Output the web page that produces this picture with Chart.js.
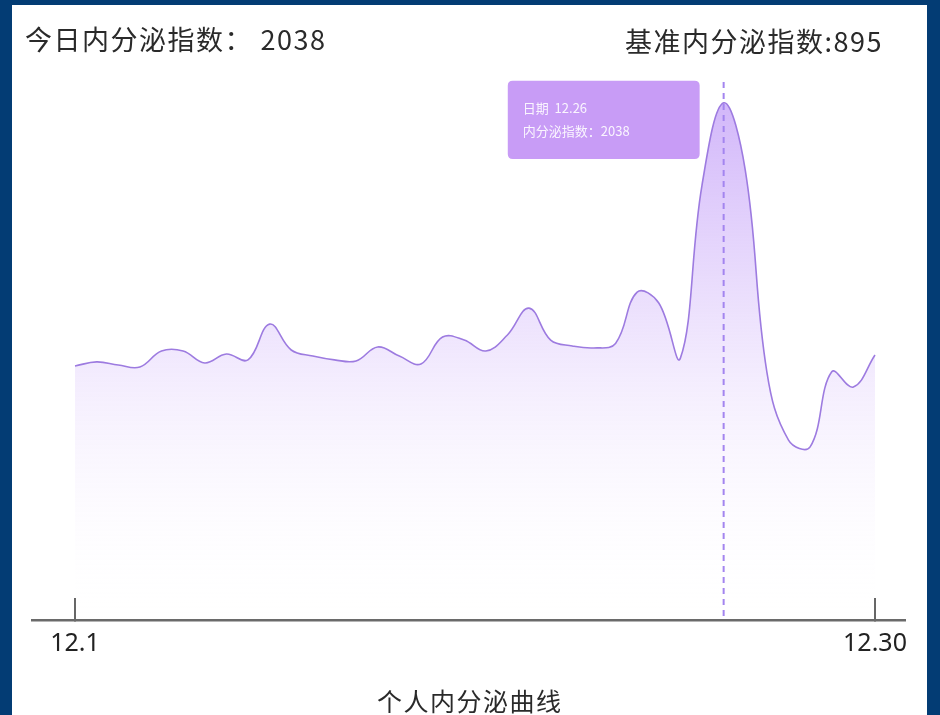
<!DOCTYPE html>
<html>
<head>
<meta charset="utf-8">
<script src="https://cdn.jsdelivr.net/npm/chart.js@4.4.1/dist/chart.umd.min.js"></script>
<style>
  html, body { margin: 0; padding: 0; width: 940px; height: 715px; overflow: hidden; background: #033c74; font-family: "Noto Sans CJK SC", "Noto Sans", sans-serif; }
  #panel { position: absolute; left: 12px; top: 5px; width: 915px; height: 710px; background: #fff; }
  #wrap { position: absolute; left: 0; top: 0; width: 940px; height: 715px; }
  .txt { position: absolute; color: #2a2a2a; white-space: nowrap; line-height: 1; font-size: 27px; letter-spacing: 1.5px; }
</style>
</head>
<body>
<div id="panel"></div>
<div id="wrap"><canvas id="c" width="940" height="715"></canvas></div>
<div class="txt" id="todayText" style="left:25px; top:25px;"></div>
<div class="txt" id="baseText" style="left:625px; top:27px;"></div>
<div class="txt" id="caption" style="left:377px; top:688px; font-size:25px;">个人内分泌曲线</div>
<script>
// Reading dates (some days have two readings)
const readingDates = [
  '12.1', '12.2', '12.3', '12.4', '12.4', '12.5', '12.6', '12.7', '12.8', '12.9',
  '12.9', '12.10', '12.11', '12.12', '12.13', '12.14', '12.14', '12.15', '12.16', '12.17',
  '12.18', '12.19', '12.19', '12.20', '12.21', '12.22', '12.23', '12.24', '12.24', '12.25',
  '12.26', '12.27', '12.27', '12.28', '12.28', '12.29', '12.29', '12.30'
];

// Endocrine index per reading
const endocrineIndex = [
  1001, 1017, 1005, 997, 1060, 1060, 1013, 1048, 1025, 1166,
  1064, 1040, 1025, 1021, 1076, 1040, 1009, 1115, 1103, 1060,
  1123, 1229, 1103, 1080, 1072, 1090, 1292, 1249, 1032, 1714,
  2038, 1773, 977, 709, 682, 978, 918, 1044
];

// Reference (baseline) endocrine index
const baselineIndex = 895;

// Only first and last dates are labelled on the axis
const axisTickIndexes = [0, readingDates.length - 1];

const peakIndex = endocrineIndex.indexOf(Math.max(...endocrineIndex));

document.getElementById('todayText').textContent = '今日内分泌指数： ' + endocrineIndex[peakIndex];
document.getElementById('baseText').textContent = '基准内分泌指数:' + baselineIndex;

// Tooltip stays beside the highlighted reading
Chart.Tooltip.positioners.pinned = function (items) {
  if (!items.length) return false;
  const el = items[0].element;
  return { x: el.x, y: el.y + 17 };
};

// Dashed vertical pointer through the highlighted reading
const pointerLine = {
  id: 'pointerLine',
  afterDatasetsDraw(chart) {
    const active = chart.tooltip ? chart.tooltip.getActiveElements() : [];
    if (!active.length) return;
    const x = active[0].element.x;
    const { top, bottom } = chart.chartArea;
    const ctx = chart.ctx;
    ctx.save();
    ctx.setLineDash([6, 5]);
    ctx.strokeStyle = '#a385ef';
    ctx.lineWidth = 2;
    ctx.beginPath();
    ctx.moveTo(x, top);
    ctx.lineTo(x, bottom);
    ctx.stroke();
    ctx.restore();
  }
};

const points = endocrineIndex.map((v, i) => ({ x: i, y: v }));

const chart = new Chart(document.getElementById('c'), {
  type: 'line',
  data: {
    datasets: [{
      data: points,
      borderColor: '#9d7be0',
      borderWidth: 1.6,
      tension: 0.4,
      pointRadius: 0,
      pointHoverRadius: 0,
      fill: 'origin',
      backgroundColor(context) {
        const area = context.chart.chartArea;
        if (!area) return 'rgba(190,150,245,0.3)';
        const g = context.chart.ctx.createLinearGradient(0, area.top, 0, area.bottom);
        g.addColorStop(0, 'rgba(172,122,245,0.58)');
        g.addColorStop(0.5, 'rgba(190,150,248,0.22)');
        g.addColorStop(1, 'rgba(255,255,255,0)');
        return g;
      }
    }]
  },
  options: {
    responsive: false,
    animation: false,
    events: [],
    layout: { padding: { left: 32, right: 35, top: 82, bottom: 25 } },
    scales: {
      x: {
        type: 'linear',
        min: -1.989,
        max: 38.388,
        afterBuildTicks(scale) {
          scale.ticks = axisTickIndexes.map(v => ({ value: v }));
        },
        grid: {
          display: true,
          drawOnChartArea: false,
          drawTicks: true,
          tickLength: -22,
          color: '#666',
          lineWidth: 2
        },
        border: { display: true, color: '#6a6a6a', width: 2.5 },
        ticks: {
          autoSkip: false,
          maxRotation: 0,
          padding: 31,
          color: '#222',
          font: { family: '"Noto Sans", sans-serif', size: 25 },
          callback: v => readingDates[v]
        }
      },
      y: {
        display: false,
        min: 0,
        max: 2120
      }
    },
    plugins: {
      legend: { display: false },
      title: { display: false },
      tooltip: {
        enabled: true,
        position: 'pinned',
        xAlign: 'right',
        yAlign: 'center',
        caretSize: 0,
        caretPadding: 24,
        backgroundColor: '#c89cf6',
        cornerRadius: 5,
        displayColors: false,
        padding: { left: 15, right: 70, top: 20, bottom: 20 },
        titleColor: 'rgba(255,255,255,0.9)',
        bodyColor: 'rgba(255,255,255,0.9)',
        titleFont: { family: '"Noto Sans CJK SC", sans-serif', size: 13, weight: 'normal' },
        bodyFont: { family: '"Noto Sans CJK SC", sans-serif', size: 13 },
        titleMarginBottom: 7,
        callbacks: {
          title: items => '日期  ' + readingDates[items[0].dataIndex],
          label: item => '内分泌指数：' + item.parsed.y
        }
      }
    }
  },
  plugins: [pointerLine]
});

chart.tooltip.setActiveElements([{ datasetIndex: 0, index: peakIndex }], { x: 0, y: 0 });
chart.draw();
</script>
</body>
</html>
